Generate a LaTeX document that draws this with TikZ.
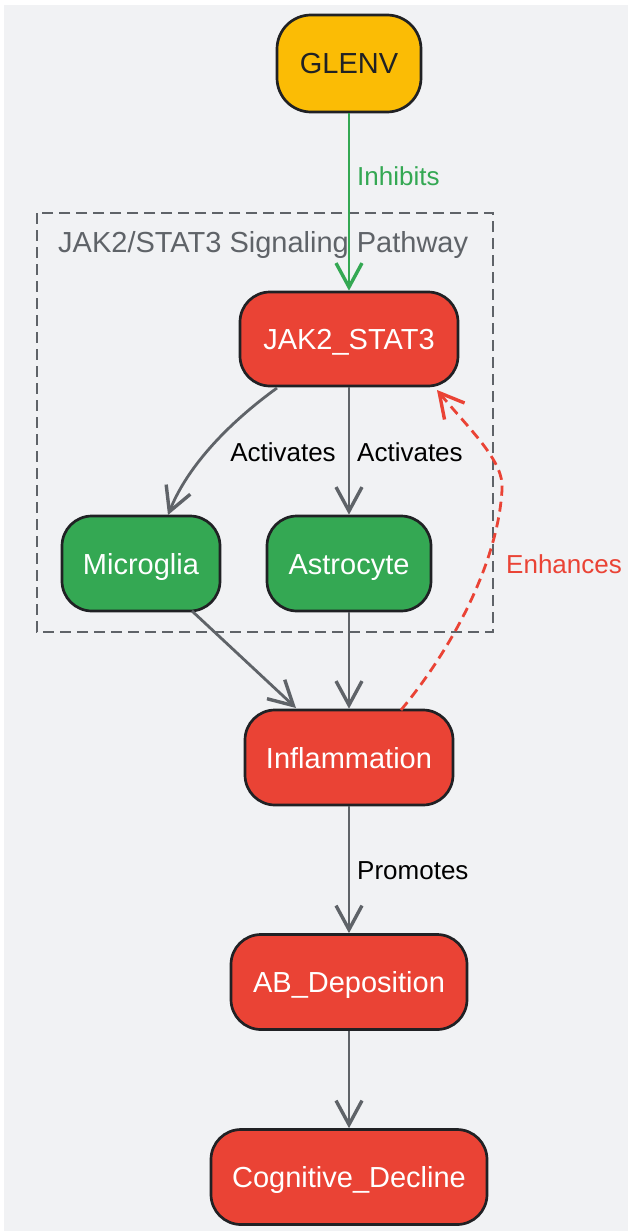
\documentclass[tikz,border=0pt]{standalone}
\usepackage{fontspec}
\setmainfont{Liberation Sans}
\usetikzlibrary{arrows.meta}
\definecolor{bgc}{HTML}{F1F2F4}
\definecolor{gy}{HTML}{FBBC05}
\definecolor{gr}{HTML}{EA4335}
\definecolor{gg}{HTML}{34A853}
\definecolor{bd}{HTML}{202124}
\definecolor{eg}{HTML}{5F6368}
\tikzset{
  box/.style={draw=bd, line width=2.7pt, rounded corners=30pt, align=center,
    inner sep=0pt, font=\fontsize{29}{34}\selectfont, minimum height=95pt,
    text height=21pt, text depth=0pt},
  redbox/.style={box, fill=gr, text=white},
  greenbox/.style={box, fill=gg, text=white},
  yellowbox/.style={box, fill=gy, text=bd, rounded corners=34pt},
  tipv/.style={-{Straight Barb[length=24pt,width=26pt,line width=3.4pt]}},
  edge/.style={draw=eg, line width=2.8pt, tipv},
  elabel/.style={font=\fontsize{26}{30}\selectfont, inner sep=0pt, text=black},
}
\begin{document}
\begin{tikzpicture}[x=1pt,y=-1pt]
\useasboundingbox (0,0) rectangle (628,1231);
\fill[white] (0,0) rectangle (628,1231);
\fill[bgc] (4,5) rectangle (628,1231);
% cluster
\draw[eg, line width=2.6pt, dash pattern=on 11pt off 6pt] (37,213) rectangle (493,632);
\node[anchor=base west, text=eg, font=\fontsize{29}{34}\selectfont, inner sep=0pt] (cl) at (58,252) {JAK2/STAT3 Signaling Pathway};
% nodes
\node[yellowbox, minimum width=144pt, minimum height=97pt] (glenv) at (349,63.5) {GLENV};
\node[redbox, minimum width=218pt, minimum height=94pt] (jak) at (349,339) {JAK2\_STAT3};
\node[greenbox, minimum width=158pt] (mic) at (141,563.5) {Microglia};
\node[greenbox, minimum width=164pt] (ast) at (349,563.5) {Astrocyte};
\node[redbox, minimum width=208pt] (inf) at (349,757.5) {Inflammation};
\node[redbox, minimum width=236pt] (ab) at (349,982) {AB\_Deposition};
\node[redbox, minimum width=276pt] (cog) at (349,1177) {Cognitive\_Decline};
% edges
\draw[edge, draw=gg, gg] (glenv.south) -- (jak.north);
\node[elabel, text=gg, anchor=west] (l1) at (357,176) {Inhibits};
\coordinate (j1) at (277,388);
\coordinate (m1) at (168,515);
\draw[edge] (j1) .. controls (230,422) and (188,465) .. (m1);
\node[elabel] (l2) at (283,452) {Activates};
\draw[edge] (jak.south) -- (ast.north);
\node[elabel, anchor=west] (l3) at (357,452) {Activates};
\coordinate (m2) at (192,611);
\coordinate (i2) at (296,708);
\draw[edge] (m2) -- (i2);
\draw[edge] (ast.south) -- (inf.north);
\coordinate (i1) at (401,710);
\coordinate (w1) at (502,490);
\coordinate (j2) at (437,390);
\draw[edge, draw=gr, gr, dash pattern=on 10pt off 6pt]
  (i1) .. controls (455,645) and (498,560) .. (w1) .. controls (505,462) and (470,430) .. (j2);
\node[elabel, text=gr, anchor=west] (l4) at (506,564) {Enhances};
\draw[edge] (inf.south) -- (ab.north);
\node[elabel, anchor=west] (l5) at (357,871) {Promotes};
\draw[edge] (ab.south) -- (cog.north);
\end{tikzpicture}
\end{document}
